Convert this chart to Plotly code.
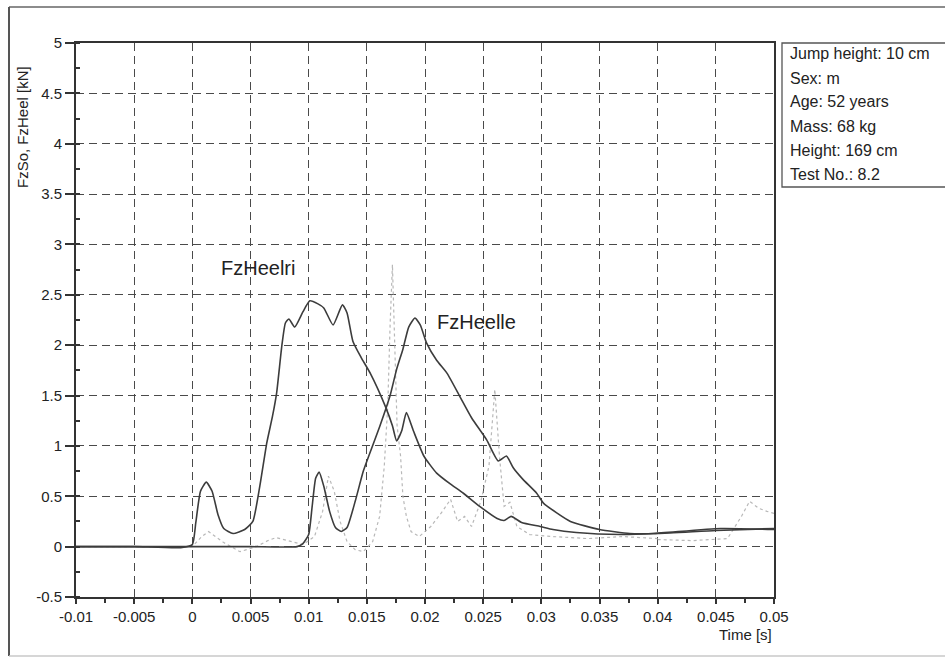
import plotly.graph_objects as go

# ---------------- data ----------------
ri_t = [-0.01, -0.005, -0.001, 0.0, 0.0003, 0.0007, 0.0012, 0.0017, 0.0022, 0.0027, 0.0035,
        0.0045, 0.0052, 0.0058, 0.0064, 0.0069, 0.00725, 0.0077, 0.0080, 0.0083, 0.0088,
        0.0095, 0.0101, 0.0108, 0.0113, 0.0121, 0.0129, 0.0133, 0.0138, 0.0145, 0.0153,
        0.0166, 0.0172, 0.01756, 0.0180, 0.0184, 0.0190, 0.0199, 0.0210, 0.0222, 0.0233,
        0.0247, 0.0262, 0.0268, 0.0274, 0.0283, 0.0299, 0.0310, 0.0330, 0.0368, 0.0396,
        0.0454, 0.0500]
ri_v = [0.0, 0.0, -0.01, 0.02, 0.24, 0.55, 0.64, 0.55, 0.32, 0.18, 0.13,
        0.17, 0.25, 0.6, 1.03, 1.3, 1.53, 2.0, 2.22, 2.26, 2.18,
        2.33, 2.44, 2.41, 2.37, 2.2, 2.4, 2.32, 2.04, 1.88, 1.72,
        1.39, 1.2, 1.05, 1.15, 1.33, 1.15, 0.9, 0.73, 0.62, 0.53,
        0.4, 0.28, 0.26, 0.3, 0.24, 0.2, 0.17, 0.14, 0.12, 0.13,
        0.18, 0.17]

le_t = [-0.01, 0.0, 0.005, 0.009, 0.0095, 0.0100, 0.0103, 0.0106, 0.0109, 0.0113, 0.0118,
        0.0123, 0.0128, 0.0133, 0.0140, 0.0147, 0.01536, 0.0161, 0.0170, 0.01756, 0.0181,
        0.0186, 0.01914, 0.0196, 0.02014, 0.0210, 0.0219, 0.0230, 0.0240, 0.0253, 0.0263,
        0.0270, 0.0276, 0.0284, 0.0296, 0.0302, 0.0325, 0.0350, 0.0376, 0.0400, 0.0450, 0.0500]
le_v = [0.0, 0.0, 0.0, 0.0, 0.03, 0.12, 0.4, 0.68, 0.74, 0.6, 0.35,
        0.19, 0.15, 0.19, 0.45, 0.75, 0.96, 1.19, 1.5, 1.76, 1.96,
        2.18, 2.27, 2.2, 2.02, 1.85, 1.72, 1.49, 1.28, 1.06, 0.85,
        0.9, 0.78, 0.67, 0.53, 0.43, 0.25, 0.17, 0.13, 0.13, 0.16, 0.18]

so_ri_t = [-0.01, 0.0, 0.0008, 0.0014, 0.0027, 0.0041, 0.0055, 0.0065, 0.0072, 0.0084,
           0.0095, 0.0105, 0.0112, 0.0117, 0.0122, 0.0127, 0.0133, 0.0140, 0.0147, 0.0155,
           0.0161, 0.0165, 0.0168, 0.0170, 0.0172, 0.0174, 0.0176, 0.0179, 0.0181, 0.0184,
           0.0188, 0.0195, 0.0205, 0.0215, 0.0222, 0.0228, 0.0234, 0.0240, 0.0248, 0.0255,
           0.0260, 0.0264, 0.0268, 0.0273, 0.0279, 0.0290, 0.0310, 0.0340, 0.0370, 0.0400]
so_ri_v = [0.0, 0.0, 0.1, 0.15, 0.04, -0.05, 0.0, 0.06, 0.09, 0.05,
           0.02, 0.1, 0.35, 0.7, 0.55, 0.25, 0.05, -0.03, -0.05, 0.05,
           0.3, 0.8, 1.4, 2.2, 2.8, 2.0, 1.2, 0.9, 0.5, 0.3,
           0.15, 0.1, 0.2, 0.35, 0.47, 0.25, 0.3, 0.2, 0.45, 0.8,
           1.56, 0.9, 0.4, 0.44, 0.2, 0.12, 0.1, 0.08, 0.1, 0.08]

so_le_t = [0.040, 0.043, 0.046, 0.0472, 0.0479, 0.0487, 0.0494, 0.0500]
so_le_v = [0.07, 0.06, 0.08, 0.3, 0.45, 0.38, 0.35, 0.33]

x_ticks = [-0.01, -0.005, 0, 0.005, 0.01, 0.015, 0.02, 0.025, 0.03, 0.035, 0.04, 0.045, 0.05]
x_labels = ["-0.01", "-0.005", "0", "0.005", "0.01", "0.015", "0.02", "0.025",
            "0.03", "0.035", "0.04", "0.045", "0.05"]
y_ticks = [-0.5, 0, 0.5, 1, 1.5, 2, 2.5, 3, 3.5, 4, 4.5, 5]
y_labels = ["-0.5", "0", "0.5", "1", "1.5", "2", "2.5", "3", "3.5", "4", "4.5", "5"]

info_lines = ["Jump height: 10 cm", "Sex: m", "Age: 52 years", "Mass: 68 kg",
              "Height: 169 cm", "Test No.: 8.2"]

# ---------------- figure ----------------
FONT = "Arial, Liberation Sans, sans-serif"
DARK = "#3c3c3c"
GRID = "#4a4a4a"

fig = go.Figure()
fig.add_trace(go.Scatter(x=so_ri_t, y=so_ri_v, mode="lines", name="FzSo ri",
                         line=dict(color="#b8b8b8", width=1.2, dash="dot")))
fig.add_trace(go.Scatter(x=so_le_t, y=so_le_v, mode="lines", name="FzSo le",
                         line=dict(color="#b8b8b8", width=1.2, dash="dot")))
fig.add_trace(go.Scatter(x=le_t, y=le_v, mode="lines", name="FzHeelle",
                         line=dict(color=DARK, width=1.6, shape="spline", smoothing=0.5)))
fig.add_trace(go.Scatter(x=ri_t, y=ri_v, mode="lines", name="FzHeelri",
                         line=dict(color=DARK, width=1.6, shape="spline", smoothing=0.5)))

fig.add_annotation(x=0.00232, y=2.77, xref="x", yref="y", text="FzHeelri", showarrow=False,
                   xanchor="left", yanchor="middle", font=dict(family=FONT, size=20, color="#222"))
fig.add_annotation(x=0.0209, y=2.23, xref="x", yref="y", text="FzHeelle", showarrow=False,
                   xanchor="left", yanchor="middle", font=dict(family=FONT, size=20, color="#222"))

W, H = 945, 662
L, R, T, B = 76, 774, 43, 597
pw, ph = R - L, B - T


def px(xp):
    return (xp - L) / pw


def py(yp):
    return (B - yp) / ph


# y axis title near the top of the axis
fig.add_annotation(x=px(22), y=py(127), xref="paper", yref="paper", text="FzSo, FzHeel [kN]",
                   showarrow=False, textangle=-90, xanchor="center", yanchor="middle",
                   font=dict(family=FONT, size=15, color="#222"))
# x axis title
fig.add_annotation(x=px(774), y=py(634), xref="paper", yref="paper", text="Time [s]",
                   showarrow=False, xanchor="right", yanchor="middle",
                   font=dict(family=FONT, size=15, color="#222"))

# info box
fig.add_shape(type="rect", xref="paper", yref="paper", x0=px(782), x1=px(960), y0=py(187), y1=py(43),
              line=dict(color="#555", width=1.3), fillcolor="white")
for i, s in enumerate(info_lines):
    fig.add_annotation(x=px(788), y=py(54 + 24 * i), xref="paper", yref="paper", text=s,
                       showarrow=False, xanchor="left", yanchor="middle",
                       font=dict(family=FONT, size=16, color="#222"))

# outer frame
fig.add_shape(type="line", xref="paper", yref="paper", x0=px(9), x1=px(960), y0=py(7), y1=py(7),
              line=dict(color="#666", width=1.5))
fig.add_shape(type="line", xref="paper", yref="paper", x0=px(9), x1=px(9), y0=py(7), y1=py(656),
              line=dict(color="#555", width=2))
fig.add_shape(type="line", xref="paper", yref="paper", x0=px(9), x1=px(960), y0=py(656), y1=py(656),
              line=dict(color="#c8c8c8", width=1.5))

fig.update_xaxes(range=[-0.01, 0.05], tickmode="array", tickvals=x_ticks, ticktext=x_labels,
                 showgrid=True, gridcolor=GRID, gridwidth=1.3, griddash="8px,5px",
                 zeroline=False, showline=True, linecolor="#333", linewidth=2, mirror=True,
                 ticks="outside", ticklen=5, tickwidth=1.5, tickcolor="#333",
                 minor=dict(dtick=0.0025, tick0=0, ticks="outside", ticklen=4, tickcolor="#333",
                            showgrid=False),
                 tickfont=dict(family=FONT, size=15, color="#222"))
fig.update_yaxes(range=[-0.5, 5], tickmode="array", tickvals=y_ticks, ticktext=y_labels,
                 showgrid=True, gridcolor=GRID, gridwidth=1.3, griddash="8px,5px",
                 zeroline=False, showline=True, linecolor="#333", linewidth=2, mirror=True,
                 ticks="outside", ticklen=9, tickwidth=1.5, tickcolor="#333",
                 minor=dict(dtick=0.25, tick0=0, ticks="inside", ticklen=4, tickcolor="#333",
                            showgrid=False),
                 tickfont=dict(family=FONT, size=15, color="#222"))

fig.update_layout(width=W, height=H, margin=dict(l=L, r=W - R, t=T, b=H - B, pad=0),
                  paper_bgcolor="white", plot_bgcolor="white", showlegend=False)

fig.write_html("out.html")
